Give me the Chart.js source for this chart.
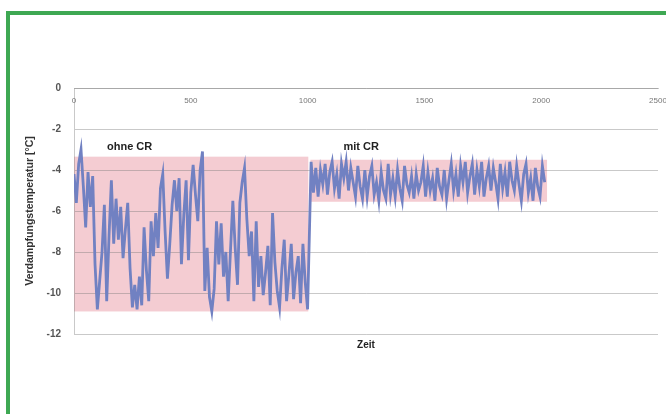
<!DOCTYPE html>
<html>
<head>
<meta charset="utf-8">
<script src="https://cdn.jsdelivr.net/npm/chart.js@4.4.1/dist/chart.umd.min.js"></script>
<style>
  html, body { margin: 0; padding: 0; background: #fff; }
  body { width: 666px; height: 414px; position: relative; overflow: hidden; }
  #frame {
    position: absolute; left: 6px; top: 11px; width: 720px; height: 430px;
    border-top: 4px solid #3ea853; border-left: 4px solid #3ea853;
  }
  #wrap { position: absolute; left: 0; top: 0; width: 666px; height: 414px; }
</style>
</head>
<body>
<div id="frame"></div>
<div id="wrap"><canvas id="chart" width="666" height="414"></canvas></div>
<script>
// Messreihe: Verdampfungstemperatur ueber der Zeit
const schritt = 10;
const startOhneCR = 0;
const startMitCR = 1015;

const ohneCR = [
  -4.2, -5.6, -3.7, -3.0, -4.8, -6.8, -4.1, -5.8, -4.3, -8.6,
  -10.8, -9.4, -8.0, -5.7, -10.4, -7.2, -4.5, -7.6, -5.4, -7.4,
  -5.8, -8.3, -6.9, -5.6, -8.8, -10.7, -9.6, -10.8, -9.2, -10.6,
  -6.8, -8.9, -10.4, -6.5, -8.2, -6.1, -7.8, -4.9, -4.2, -7.0,
  -9.3, -7.6, -5.7, -4.5, -6.0, -4.4, -8.6, -6.2, -4.5, -8.4,
  -5.1, -3.75, -5.2, -6.5, -4.0, -3.1, -9.9, -7.8, -10.2, -10.9,
  -9.8, -6.5, -8.6, -6.6, -9.2, -8.0, -10.4, -7.9, -5.5, -7.8,
  -9.6, -5.6, -4.6, -3.9, -6.4, -8.2, -7.0, -10.4, -6.5, -9.7,
  -8.2, -10.1, -9.0, -7.7, -10.6, -6.1, -8.5, -9.9, -10.7, -8.8,
  -7.4, -10.4, -9.1, -7.6, -10.3, -9.0, -8.2, -10.5, -7.6, -9.5,
  -10.8
];

const mitCR = [
  -3.6, -5.1, -3.9, -5.3, -4.0, -4.7, -3.7, -5.2, -4.1, -3.6,
  -4.9, -4.2, -5.4, -3.7, -4.4, -3.6, -5.0, -3.9, -4.6, -5.3,
  -3.8, -4.8, -5.4, -4.0, -5.3, -4.3, -3.8, -5.2, -4.6, -5.5,
  -4.1, -5.0, -5.4, -3.7, -5.2, -4.4, -5.3, -4.0, -4.9, -5.5,
  -3.8, -4.7, -5.1, -4.3, -5.4, -4.2, -5.0, -4.6, -3.8, -5.3,
  -4.1, -5.0, -4.4, -5.5, -3.9, -4.8, -5.2, -4.0, -5.4, -4.5,
  -3.7, -5.0, -4.2, -5.3, -3.8, -4.6, -3.6, -5.1, -4.3, -3.7,
  -5.2, -4.0, -4.8, -3.6, -5.3, -4.4, -3.8, -5.0, -3.9, -4.6,
  -5.4, -3.7, -4.9, -4.1, -5.3, -3.6, -4.5, -5.0, -3.8, -4.7,
  -5.5, -4.2, -3.7, -5.1, -4.4, -5.5, -3.9, -4.8, -5.3, -3.8,
  -4.6
];

// rosa Bereiche mit Beschriftung
const bereichLabels = ["ohne CR", "mit CR"];
const bereichVon = [0, 1012];
const bereichBis = [1003, 2025];
const bereichMax = [-3.35, -3.5];
const bereichMin = [-10.9, -5.55];

// Achsen
const zeitMin = 0;
const zeitMax = 2500;
const zeitStep = 500;
const tempMin = -12;
const tempMax = 0;
const tempStep = 2;

const punkte = ohneCR
  .map((v, i) => ({ x: startOhneCR + i * schritt, y: v }))
  .concat(mitCR.map((v, i) => ({ x: startMitCR + i * schritt, y: v })));

// Kaesten hinter dem Gitter zeichnen
const bereichePlugin = {
  id: "bereiche",
  beforeDraw(chart) {
    const { ctx, scales } = chart;
    const x = scales.x;
    const y = scales.y;
    ctx.save();
    bereichLabels.forEach((label, i) => {
      const x0 = x.getPixelForValue(bereichVon[i]);
      const x1 = x.getPixelForValue(bereichBis[i]);
      const y0 = y.getPixelForValue(bereichMax[i]);
      const y1 = y.getPixelForValue(bereichMin[i]);
      ctx.fillStyle = "rgba(236,170,180,0.6)";
      ctx.fillRect(x0, y0, x1 - x0, y1 - y0);
      ctx.fillStyle = "#222";
      ctx.font = "bold 11px 'Liberation Sans', Arial, sans-serif";
      ctx.textBaseline = "middle";
      ctx.textAlign = "left";
      ctx.fillText(label, x0 + 33, y.getPixelForValue(-2.9));
    });
    ctx.restore();
  }
};

const gitterFarbe = "rgba(120,120,120,0.4)";

new Chart(document.getElementById("chart"), {
  type: "line",
  data: {
    datasets: [{
      data: punkte,
      borderColor: "#7181c2",
      borderWidth: 2.8,
      pointRadius: 0,
      tension: 0,
      fill: false,
    }]
  },
  options: {
    responsive: false,
    devicePixelRatio: 1,
    animation: false,
    layout: { padding: { left: 20, top: 88, right: 8, bottom: 59 } },
    plugins: {
      legend: { display: false },
      tooltip: { enabled: false },
    },
    scales: {
      x: {
        type: "linear",
        position: { y: 0 },
        min: zeitMin,
        max: zeitMax,
        ticks: {
          stepSize: zeitStep,
          padding: 8,
          color: "#777",
          font: { family: "'Liberation Sans', Arial, sans-serif", size: 8 },
          callback: (v) => String(v),
        },
        grid: { display: false, drawTicks: false },
        border: { color: gitterFarbe },
        afterFit: (s) => { s.paddingLeft = 0; s.paddingRight = 0; },
      },
      x2: {
        type: "linear",
        position: "bottom",
        min: zeitMin,
        max: zeitMax,
        ticks: { display: false },
        grid: { display: false },
        border: { display: false },
        title: {
          display: true,
          text: "Zeit",
          color: "#222",
          font: { family: "'Liberation Sans', Arial, sans-serif", size: 10, weight: "bold" },
          padding: { top: 4, bottom: 4 },
        },
        afterFit: (s) => { s.height = 21; },
      },
      y: {
        min: tempMin,
        max: tempMax,
        ticks: {
          stepSize: tempStep,
          padding: 13,
          color: "#555",
          font: { family: "'Liberation Sans', Arial, sans-serif", size: 10, weight: "bold" },
        },
        grid: { color: gitterFarbe, drawTicks: false },
        border: { color: gitterFarbe },
        title: {
          display: true,
          text: "Verdampfungstemperatur [°C]",
          color: "#333",
          font: { family: "'Liberation Sans', Arial, sans-serif", size: 10.5, weight: "bold" },
          padding: { top: 4, bottom: 4 },
        },
        afterFit: (s) => { s.width = 54; },
      }
    }
  },
  plugins: [bereichePlugin]
});
</script>
</body>
</html>
